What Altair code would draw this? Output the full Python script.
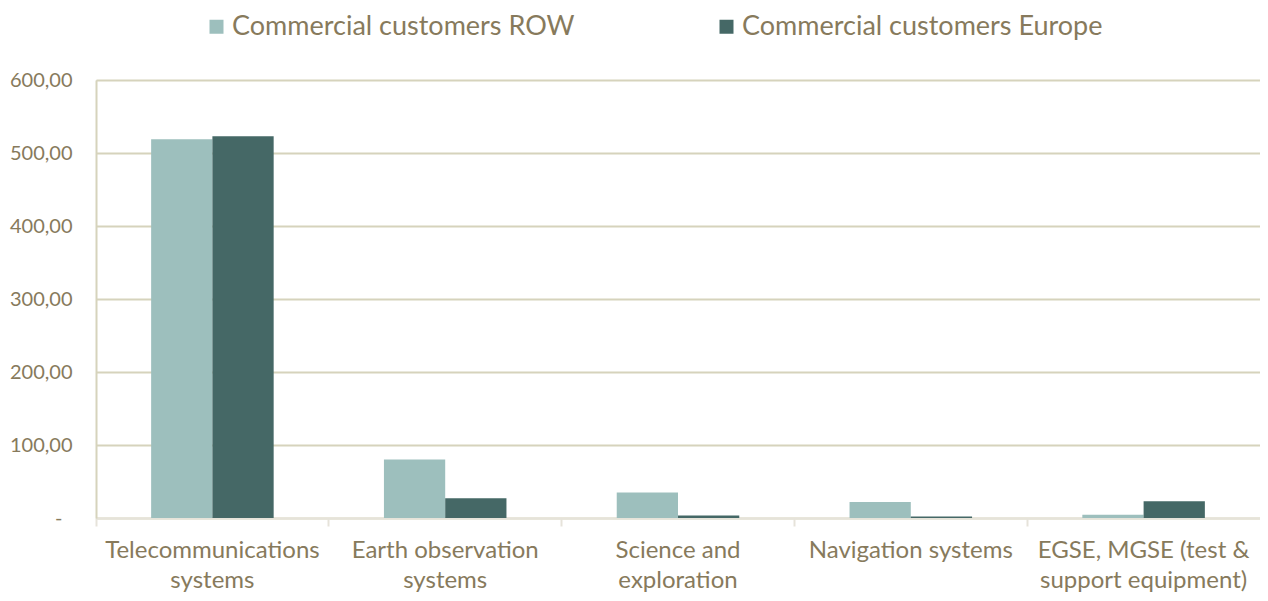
import altair as alt
import pandas as pd

categories = [
    "Telecommunications\nsystems",
    "Earth observation\nsystems",
    "Science and\nexploration",
    "Navigation systems",
    "EGSE, MGSE (test &\nsupport equipment)",
]
series = ["Commercial customers ROW", "Commercial customers Europe"]
row_values = [519, 80, 35, 22, 4.5]
europe_values = [523, 27, 3.5, 2, 23]
colors = ["#9DBFBD", "#456866"]

rows = []
for c, a, b in zip(categories, row_values, europe_values):
    rows.append({"cat": c, "series": series[0], "value": a})
    rows.append({"cat": c, "series": series[1], "value": b})
df = pd.DataFrame(rows)

TEXT = "#877A5C"
FONT = "Lato"

chart = alt.Chart(df).mark_bar().encode(
    x=alt.X("cat:N", sort=categories, title=None,
            scale=alt.Scale(paddingInner=0, paddingOuter=0),
            axis=alt.Axis(labelAngle=0, bandPosition=0,
                          labelExpr="split(datum.label, '\\n')",
                          labelFontSize=24, labelColor=TEXT, labelFont=FONT,
                          labelLineHeight=30, labelPadding=12, labelLimit=0,
                          tickColor="#E6E3DA", tickWidth=2, tickSize=8,
                          domainColor="#E6E3DA", domainWidth=2,
                          labelBound=False, labelOverlap=False)),
    xOffset=alt.XOffset("series:N", sort=series, scale=alt.Scale(paddingOuter=0.9, paddingInner=0)),
    y=alt.Y("value:Q", title=None,
            scale=alt.Scale(domain=[0, 600], nice=False),
            axis=alt.Axis(values=[0, 100, 200, 300, 400, 500, 600],
                          labelExpr="datum.value == 0 ? '-\u2002\u200b' : replace(format(datum.value, '.2f'), '.', ',')",
                          labelFontSize=20, labelColor=TEXT, labelFont=FONT,
                          labelPadding=24, ticks=False, labelLimit=0,
                          gridColor="#D6D3BC", gridWidth=2,
                          domainColor="#D6D3BC", domainWidth=2)),
    color=alt.Color("series:N", sort=series, title=None,
                    scale=alt.Scale(domain=series, range=colors),
                    legend=alt.Legend(orient="none", direction="horizontal",
                                      legendX=107, legendY=-67,
                                      symbolType="square", symbolSize=196,
                                      symbolStrokeWidth=0,
                                      labelFontSize=27, labelColor=TEXT, labelFont=FONT,
                                      labelLimit=0,
                                      columnPadding=138, labelOffset=2,
                                      padding=0)),
).properties(
    width=1164, height=438,
    autosize=alt.AutoSizeParams(type="none"),
    padding={"left": 88, "top": 72, "right": 0, "bottom": 75},
).configure_view(stroke=None).configure(background="white")

chart.save("out.html", embed_options={"renderer": "svg", "actions": False})
